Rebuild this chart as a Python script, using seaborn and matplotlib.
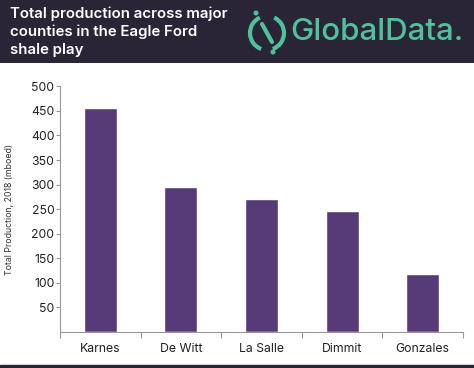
import numpy as np
import pandas as pd
import seaborn as sns
import matplotlib.pyplot as plt
from matplotlib.patches import Rectangle, Arc, Circle

# data
counties = ['Karnes', 'De Witt', 'La Salle', 'Dimmit', 'Gonzales']
production = [455, 296, 270, 247, 118]
yticks = [50, 100, 150, 200, 250, 300, 350, 400, 450, 500]

title_lines = ['Total production across major', 'counties in the Eagle Ford', 'shale play']

df = pd.DataFrame({'county': counties, 'production': production})

sns.set_theme(style='white')
plt.rcParams['font.family'] = ['Inter', 'DejaVu Sans']

W, H = 474, 368
fig = plt.figure(figsize=(W / 100, H / 100), dpi=100)
fig.patch.set_facecolor('white')

# ---- chart ----
ax = fig.add_axes([60 / W, 1 - 331.8 / H, (463 - 60) / W, (331.8 - 86.4) / H])
sns.barplot(data=df, x='county', y='production', color='#573a78', width=0.41,
            saturation=1, ax=ax)
ax.set_ylim(0, 500)
ax.set_xlim(-0.5, len(counties) - 0.5)
ax.set_yticks(yticks)
ax.set_yticklabels([str(v) for v in yticks], fontsize=8.8, color='#222222')
ax.set_xticks(range(len(counties)))
ax.set_xticklabels(counties, fontsize=8.8, color='#222222')
ax.set_xticks(np.arange(-0.5, len(counties)), minor=True)
ax.tick_params(axis='x', which='major', length=0, pad=8)
ax.tick_params(axis='x', which='minor', length=4, width=0.8, color='#999999', direction='out', bottom=True)
ax.tick_params(axis='y', length=3, width=0.8, color='#999999', direction='out', left=True, pad=1)
for s in ['top', 'right']:
    ax.spines[s].set_visible(False)
for s in ['left', 'bottom']:
    ax.spines[s].set_color('#999999')
    ax.spines[s].set_linewidth(0.8)
ax.set_xlabel('')
ax.set_ylabel('Total Production, 2018 (mboed)', fontsize=6.3, color='#333333')
ax.yaxis.set_label_coords(-46 / 403, 0.5)

# ---- header band ----
hx = fig.add_axes([0, 1 - 63 / H, 1, 63 / H])
hx.set_xlim(0, W)
hx.set_ylim(63, 0)
hx.axis('off')
hx.add_patch(Rectangle((0, 0), W, 63, color='#2a2536', zorder=0))
for i, line in enumerate(title_lines):
    hx.text(10, 14 + i * 18, line, color='white', fontsize=10.8, fontweight='semibold',
            va='center', ha='left')

teal = '#4fc29b'
cx, cy, r = 267, 33, 17
hx.add_patch(Arc((cx, cy), 2 * r, 2 * r, theta1=110, theta2=245, color=teal, lw=3))
hx.add_patch(Arc((cx, cy), 2 * r, 2 * r, theta1=-65, theta2=70, color=teal, lw=3))
hx.plot([262, 272], [24, 42], color=teal, lw=3, solid_capstyle='round')
hx.add_patch(Circle((256, 13), 1.8, color=teal))
hx.add_patch(Circle((273, 52), 1.8, color=teal))
hx.text(290, 32, 'GlobalData.', color=teal, fontsize=22.5, fontweight='medium',
        va='center', ha='left')

# ---- bottom band ----
fig.add_artist(Rectangle((0, 0), 1, 3.5 / H, transform=fig.transFigure, color='#2a2536'))

fig.savefig('out.png', dpi=100)
